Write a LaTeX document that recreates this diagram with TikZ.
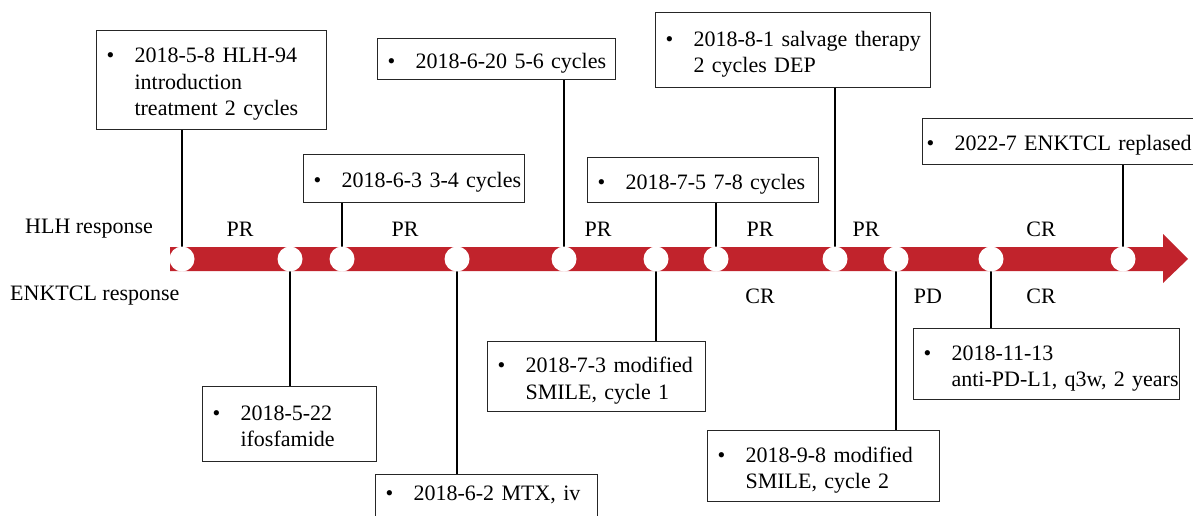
\documentclass[tikz,border=0pt]{standalone}
\usepackage{fontspec}
\setmainfont{Liberation Serif}
\definecolor{barred}{RGB}{193,35,44}
\newcommand\bx[1]{\vspace*{-8pt}\begin{tabular}{@{}p{28pt}@{}l@{}}#1\end{tabular}}
\begin{document}
\begin{tikzpicture}[x=1pt,y=-1pt,
  txt/.style={font=\fontsize{22}{26.5}\selectfont, inner sep=0pt},
  box/.style={txt, draw=black!85, line width=1.1pt, fill=white, anchor=north west,
    inner xsep=10pt, inner ysep=0pt, align=left},
  conn/.style={line width=2.6pt, black},
  dot/.style={circle, fill=white, minimum size=25pt, inner sep=0pt}]
\useasboundingbox (0,0) rectangle (1193,516);
\clip (0,0) rectangle (1193,516);
% bar
\fill[barred] (170,247) -- (1163,247) -- (1163,234) -- (1188,259) -- (1163,283) -- (1163,271) -- (170,271) -- cycle;
% circle positions
\foreach \n/\x in {1/182,2/290,3/342,4/457,5/564,6/656,7/716,8/835,9/896,10/991,11/1123}
  \coordinate (p\n) at (\x,259);
% boxes top
\node[box, text width=210pt, minimum height=99pt] (b1) at (96,30)
  {\bx{\textbullet & 2018-5-8 HLH-94\\ & introduction\\ & treatment 2 cycles}};
\node[box, text width=201pt, minimum height=48pt] (b2) at (303,154)
  {\bx{\textbullet & 2018-6-3 3-4 cycles}};
\node[box, text width=218pt, minimum height=41pt] (b3) at (377,38)
  {\bx{\textbullet & 2018-6-20 5-6 cycles}};
\node[box, text width=211pt, minimum height=45pt] (b4) at (587,157)
  {\bx{\textbullet & 2018-7-5 7-8 cycles}};
\node[box, text width=255pt, minimum height=75pt] (b5) at (655,12)
  {\bx{\textbullet & 2018-8-1 salvage therapy\\ & 2 cycles DEP}};
\node[box, inner xsep=4pt, text width=282pt, minimum height=46pt] (b6) at (922,118)
  {\bx{\textbullet & 2022-7 ENKTCL replased}};
% boxes bottom
\node[box, text width=154pt, minimum height=75pt] (b7) at (202,386)
  {\bx{\textbullet & 2018-5-22\\ & ifosfamide}};
\node[box, text width=202pt, minimum height=60pt, anchor=north west] (b8) at (375,474)
  {\bx{\textbullet & 2018-6-2 MTX, iv\\ & }};
\node[box, text width=198pt, minimum height=70pt] (b9) at (487,341)
  {\bx{\textbullet & 2018-7-3 modified\\ & SMILE, cycle 1}};
\node[box, text width=212pt, minimum height=71pt] (b10) at (707,430)
  {\bx{\textbullet & 2018-9-8 modified\\ & SMILE, cycle 2}};
\node[box, text width=246pt, minimum height=71pt] (b11) at (913,328)
  {\bx{\textbullet & 2018-11-13\\ & anti-PD-L1, q3w, 2 years}};
% connectors
\draw[conn] (p1) -- (p1 |- b1.south);
\draw[conn] (p3) -- (p3 |- b2.south);
\draw[conn] (p5) -- (p5 |- b3.south);
\draw[conn] (p7) -- (p7 |- b4.south);
\draw[conn] (p8) -- (p8 |- b5.south);
\draw[conn] (p11) -- (p11 |- b6.south);
\draw[conn] (p2) -- (p2 |- b7.north);
\draw[conn] (p4) -- (p4 |- b8.north);
\draw[conn] (p6) -- (p6 |- b9.north);
\draw[conn] (p9) -- (p9 |- b10.north);
\draw[conn] (p10) -- (p10 |- b11.north);
% circles
\foreach \n in {1,...,11} \node[dot] (c\n) at (p\n) {};
% labels
\node[txt, anchor=west] (hlh) at (25,229) {HLH response};
\node[txt, anchor=west] (enk) at (10,296) {ENKTCL response};
\node[txt] (r1) at (240,229) {PR};
\node[txt] (r2) at (405,229) {PR};
\node[txt] (r3) at (598,229) {PR};
\node[txt] (r4) at (760,229) {PR};
\node[txt] (r5) at (866,229) {PR};
\node[txt] (r6) at (1041,229) {CR};
\node[txt] (e1) at (760,296) {CR};
\node[txt] (e2) at (928,296) {PD};
\node[txt] (e3) at (1041,296) {CR};
\end{tikzpicture}
\end{document}
